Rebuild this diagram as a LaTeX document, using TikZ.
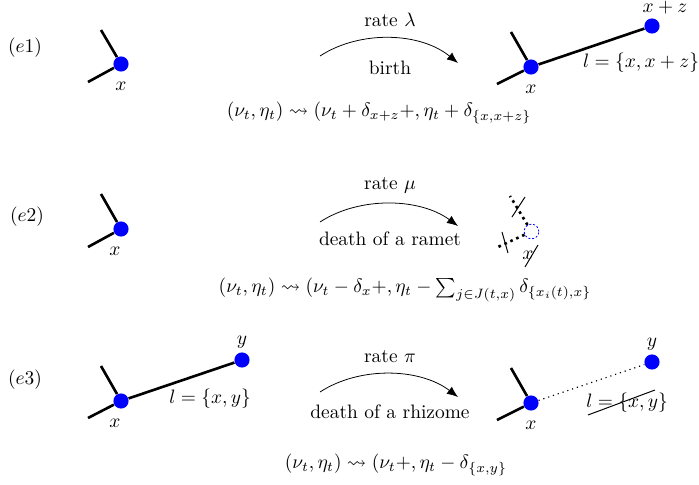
\documentclass[tikz,border=0pt]{standalone}
\usepackage{amsmath,amssymb}
\usetikzlibrary{arrows.meta}
\begin{document}
\begin{tikzpicture}[x=0.0181cm, y=-0.0181cm,
  dot/.style={circle,fill=blue,inner sep=0pt,minimum size=0.275cm},
  ghost/.style={circle,draw=blue,dash pattern=on 1pt off 1pt,inner sep=0pt,minimum size=0.265cm},
  stem/.style={line width=1.35pt},
  rate/.style={-{Latex[length=2mm,width=1.6mm]}},
  strike/.style={line width=0.5pt}]
  \useasboundingbox (0,0) rectangle (699,485);
  % (e1) birth
  \node (e1) at (25,48) {$(e1)$};
  \node[dot] (p1) at (121,64) {};
  \coordinate (p1u) at (101,30); \coordinate (p1d) at (88,82);
  \draw[stem] (p1u) -- (p1) -- (p1d);
  \node (x1) at (121,86) {$x$};
  \coordinate (r1s) at (320,56); \coordinate (r1e) at (458,63);
  \draw[rate] (r1s) .. controls (360,30) and (420,32) .. (r1e);
  \node (rate1) at (390,20) {rate $\lambda$};
  \node (ev1) at (390,68) {birth};
  \node[dot] (q1) at (531,67) {};
  \node[dot] (z1) at (652,26) {};
  \coordinate (q1u) at (511,32); \coordinate (q1d) at (497,84);
  \draw[stem] (q1u) -- (q1) -- (q1d);
  \draw[stem] (q1) -- (z1);
  \node (xz1) at (665,8) {$x+z$};
  \node (l1) at (641,63) {$l=\{x,x+z\}$};
  \node (xq1) at (531,89) {$x$};
  \node (f1) at (379,113) {$(\nu_t,\eta_t)\leadsto(\nu_t+\delta_{x+z}+,\eta_t+\delta_{\{x,x+z\}}$};
  % (e2) death of a ramet
  \node (e2) at (27,217) {$(e2)$};
  \node[dot] (p2) at (121,229) {};
  \coordinate (p2u) at (101,194); \coordinate (p2d) at (88,247);
  \draw[stem] (p2u) -- (p2) -- (p2d);
  \node (x2) at (115,251) {$x$};
  \coordinate (r2s) at (320,222); \coordinate (r2e) at (458,226);
  \draw[rate] (r2s) .. controls (360,196) and (420,198) .. (r2e);
  \node (rate2) at (390,185) {rate $\mu$};
  \node (ev2) at (390,239) {death of a ramet};
  \node[ghost] (g2) at (531.5,231.5) {};
  \coordinate (g2u) at (510,196); \coordinate (g2d) at (498,247);
  \draw[stem,dotted] (g2) -- (g2u);
  \draw[stem,dotted] (g2) -- (g2d);
  \coordinate (c2a) at (525,197); \coordinate (c2b) at (512,217);
  \coordinate (c2c) at (502,232); \coordinate (c2d) at (508,253);
  \draw[strike] (c2a) -- (c2b);
  \draw[strike] (c2c) -- (c2d);
  \node (xg2) at (528,255) {$x$};
  \coordinate (c2e) at (538,245); \coordinate (c2f) at (525,267);
  \draw[strike] (c2e) -- (c2f);
  \node (f2) at (405,290) {$(\nu_t,\eta_t)\leadsto(\nu_t-\delta_x+,\eta_t-\sum_{j\in J(t,x)}\delta_{\{x_i(t),x\}}$};
  % (e3) death of a rhizome
  \node (e3) at (25,380) {$(e3)$};
  \node[dot] (p3) at (121,401) {};
  \node[dot] (y3) at (242,360) {};
  \coordinate (p3u) at (101,366); \coordinate (p3d) at (88,418);
  \draw[stem] (p3u) -- (p3) -- (p3d);
  \draw[stem] (p3) -- (y3);
  \node (yl3) at (242,342) {$y$};
  \node (l3) at (210,399) {$l=\{x,y\}$};
  \node (x3) at (115,423) {$x$};
  \coordinate (r3s) at (320,392); \coordinate (r3e) at (458,397);
  \draw[rate] (r3s) .. controls (360,366) and (420,368) .. (r3e);
  \node (rate3) at (390,357) {rate $\pi$};
  \node (ev3) at (390,412) {death of a rhizome};
  \node[dot] (q3) at (531,403) {};
  \node[dot] (yq3) at (652,362) {};
  \coordinate (q3u) at (511,368); \coordinate (q3d) at (497,420);
  \draw[stem] (q3u) -- (q3) -- (q3d);
  \draw[dotted,semithick] (q3) -- (yq3);
  \node (ylq3) at (652,344) {$y$};
  \node (lq3) at (627,403) {$l=\{x,y\}$};
  \coordinate (c3a) at (588,415); \coordinate (c3b) at (655,390);
  \draw[strike] (c3a) -- (c3b);
  \node (xq3) at (531,425) {$x$};
  \node (f3) at (396,465) {$(\nu_t,\eta_t)\leadsto(\nu_t+,\eta_t-\delta_{\{x,y\}}$};
\end{tikzpicture}
\end{document}
